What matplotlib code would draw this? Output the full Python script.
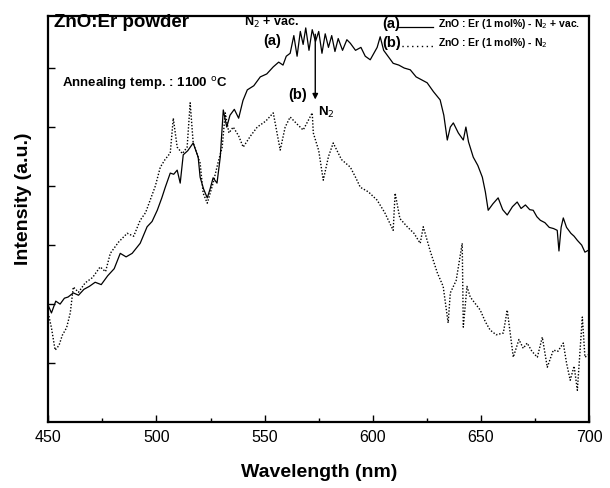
import numpy as np
import matplotlib
matplotlib.use("Agg")
import matplotlib.pyplot as plt
from matplotlib.ticker import MultipleLocator

plt.rcParams['font.family'] = ['Liberation Sans', 'DejaVu Sans']

# (a) ZnO:Er (1 mol%) - N2 + vac.  (solid)
wl_a = [450.0, 451.5, 453.5, 455.5, 457.5, 459.2, 461.6, 464.0, 466.5, 469.0, 471.7,
        474.5, 477.5, 480.5, 483.3, 486.0, 488.8, 492.5, 495.7, 498.0, 500.4, 502.5,
        504.1, 506.4, 508.0, 509.6, 511.0, 512.4, 514.5, 517.0, 519.3, 520.2, 521.8,
        523.5, 524.8, 526.2, 528.0, 529.5, 530.9, 532.5, 534.0, 536.0, 538.0, 540.0,
        542.0, 545.0, 548.0, 551.0, 554.0, 556.5, 558.5, 560.0, 561.8, 563.5, 565.0,
        566.5, 567.8, 569.0, 570.5, 572.0, 573.5, 575.0, 576.5, 578.0, 579.5, 581.0,
        582.5, 584.0, 586.0, 588.0, 589.6, 592.0, 594.5, 596.5, 598.8, 600.5, 602.0,
        603.4, 605.0, 607.0, 609.4, 612.0, 614.5, 617.3, 620.0, 622.5, 625.1, 628.0,
        631.1, 632.8, 634.4, 635.8, 637.2, 639.5, 641.8, 643.0, 644.2, 646.4, 648.5,
        650.6, 652.0, 653.3, 655.5, 657.9, 660.0, 662.1, 664.5, 666.7, 668.5, 670.5,
        672.5, 674.1, 675.8, 677.4, 679.5, 681.5, 683.5, 685.2, 686.0, 687.0, 688.0,
        689.5, 691.5, 693.0, 694.5, 696.5, 698.0, 700.0]
int_a = [1.98, 1.85, 2.05, 2.00, 2.10, 2.12, 2.19, 2.15, 2.25, 2.30, 2.37,
         2.33, 2.48, 2.60, 2.86, 2.80, 2.86, 3.03, 3.31, 3.40, 3.59, 3.80,
         3.98, 4.22, 4.20, 4.27, 4.05, 4.53, 4.60, 4.73, 4.49, 4.15, 3.95,
         3.80, 3.95, 4.14, 4.05, 4.49, 5.29, 5.00, 5.20, 5.30, 5.15, 5.45,
         5.63, 5.70, 5.85, 5.90, 6.02, 6.10, 6.05, 6.20, 6.25, 6.55, 6.20,
         6.62, 6.40, 6.68, 6.30, 6.65, 6.45, 6.62, 6.25, 6.58, 6.35, 6.55,
         6.28, 6.50, 6.30, 6.48, 6.42, 6.30, 6.35, 6.20, 6.14, 6.25, 6.35,
         6.53, 6.30, 6.20, 6.08, 6.05, 6.00, 5.97, 5.85, 5.80, 5.75, 5.60,
         5.46, 5.20, 4.78, 5.00, 5.07, 4.90, 4.78, 5.00, 4.75, 4.49, 4.35,
         4.15, 3.90, 3.59, 3.70, 3.80, 3.60, 3.51, 3.65, 3.73, 3.62, 3.68,
         3.60, 3.59, 3.48, 3.42, 3.38, 3.30, 3.28, 3.25, 2.90, 3.30, 3.46,
         3.30, 3.20, 3.15, 3.08, 3.00, 2.88, 2.92]

# (b) ZnO:Er (1 mol%) - N2  (dotted)
wl_b = [450.0, 451.5, 453.2, 455.0, 456.5, 458.5, 460.2, 461.6, 464.0, 467.1, 470.5,
        474.0, 476.5, 478.7, 482.5, 486.5, 489.5, 492.5, 495.0, 497.1, 499.5, 501.8,
        504.0, 506.4, 507.8, 509.6, 512.0, 514.2, 515.6, 517.0, 520.2, 521.6, 523.5,
        526.2, 528.5, 530.4, 531.8, 533.5, 535.5, 538.0, 540.1, 543.5, 546.6, 550.5,
        554.0, 557.2, 559.5, 561.8, 565.0, 567.8, 570.0, 572.0, 572.5, 575.0, 577.1,
        579.5, 581.7, 585.5, 589.6, 592.0, 594.2, 598.0, 602.0, 605.5, 609.4, 610.3,
        612.5, 615.9, 619.0, 621.9, 623.3, 626.5, 629.8, 632.5, 634.8, 635.8, 638.5,
        641.3, 641.8, 643.5, 645.0, 647.5, 649.6, 652.0, 654.2, 657.0, 660.3, 662.1,
        664.9, 667.5, 669.5, 671.3, 673.5, 676.0, 678.3, 680.6, 683.4, 685.5, 688.0,
        689.5, 691.2, 693.0, 694.5, 696.8, 698.0, 700.0]
int_b = [1.85, 1.60, 1.22, 1.30, 1.47, 1.60, 1.85, 2.29, 2.20, 2.36, 2.45,
         2.63, 2.55, 2.86, 3.05, 3.20, 3.15, 3.42, 3.55, 3.76, 4.00, 4.32,
         4.45, 4.56, 5.15, 4.66, 4.55, 4.66, 5.41, 4.73, 4.39, 3.88, 3.71,
         4.05, 4.40, 4.66, 5.24, 4.90, 5.00, 4.85, 4.66, 4.85, 5.00, 5.10,
         5.24, 4.61, 5.00, 5.17, 5.05, 4.95, 5.10, 5.24, 4.90, 4.60, 4.10,
         4.50, 4.73, 4.45, 4.32, 4.15, 3.98, 3.90, 3.76, 3.55, 3.25, 3.88,
         3.45, 3.31, 3.20, 3.03, 3.31, 2.90, 2.53, 2.30, 1.68, 2.19, 2.40,
         3.03, 1.61, 2.30, 2.12, 2.00, 1.90, 1.70, 1.56, 1.48, 1.51, 1.90,
         1.10, 1.40, 1.25, 1.34, 1.20, 1.10, 1.44, 0.93, 1.22, 1.20, 1.34,
         1.00, 0.71, 0.95, 0.54, 1.78, 1.10, 1.15]

x_ticks = [450, 500, 550, 600, 650, 700]

fig = plt.figure(figsize=(6.1, 4.88), dpi=100)
ax = fig.add_axes([0.079, 0.135, 0.887, 0.832])

ax.plot(wl_a, int_a, color='black', lw=0.9)
ax.plot(wl_b, int_b, color='black', lw=1.0, linestyle=(0, (1, 1.3)))

ax.set_xlim(450, 700)
ax.set_ylim(0, 6.88)
ax.set_xticks(x_ticks)
ax.xaxis.set_minor_locator(MultipleLocator(25))
ax.set_yticks(range(1, 7))
ax.set_yticklabels([])
ax.tick_params(direction='in', length=5, width=1, labelsize=11.5, pad=6)
ax.tick_params(which='minor', direction='in', length=3, width=1)
for s in ax.spines.values():
    s.set_linewidth(1.6)

ax.set_xlabel('Wavelength (nm)', fontsize=14, fontweight='bold', labelpad=13)
ax.set_ylabel('Intensity (a.u.)', fontsize=14, fontweight='bold')
ax.yaxis.set_label_coords(-0.03, 0.55)

# annotations
ax.text(452.8, 6.78, 'ZnO:Er powder', fontsize=13.5, fontweight='bold', va='center')
ax.text(456.5, 5.74, 'Annealing temp. : 1100 $^{\\rm o}$C', fontsize=9.5,
        fontweight='bold', va='center')
ax.text(540.5, 6.78, 'N$_2$ + vac.', fontsize=9, fontweight='bold', va='center')
ax.text(549.5, 6.46, '(a)', fontsize=10.5, fontweight='bold', va='center')
ax.text(561.0, 5.55, '(b)', fontsize=10.5, fontweight='bold', va='center')
ax.text(574.5, 5.25, 'N$_2$', fontsize=9.5, fontweight='bold', va='center')
ax.annotate('', xy=(573.4, 5.42), xytext=(573.4, 6.62),
            arrowprops=dict(arrowstyle='-|>', color='black', lw=1.0,
                            mutation_scale=8))

# legend drawn as text + lines
ax.text(604.5, 6.74, '(a)', fontsize=10.5, fontweight='bold', va='center')
ax.plot([611.3, 628.0], [6.70, 6.70], color='black', lw=0.9)
ax.text(630.2, 6.74, 'ZnO : Er (1 mol%) - N$_2$ + vac.', fontsize=7.5,
        fontweight='bold', va='center')
ax.text(604.5, 6.42, '(b)', fontsize=10.5, fontweight='bold', va='center')
ax.plot([611.3, 628.0], [6.38, 6.38], color='black', lw=1.0, linestyle=(0, (1, 2.5)))
ax.text(630.2, 6.42, 'ZnO : Er (1 mol%) - N$_2$', fontsize=7.5,
        fontweight='bold', va='center')

fig.savefig('out.png', dpi=100)
